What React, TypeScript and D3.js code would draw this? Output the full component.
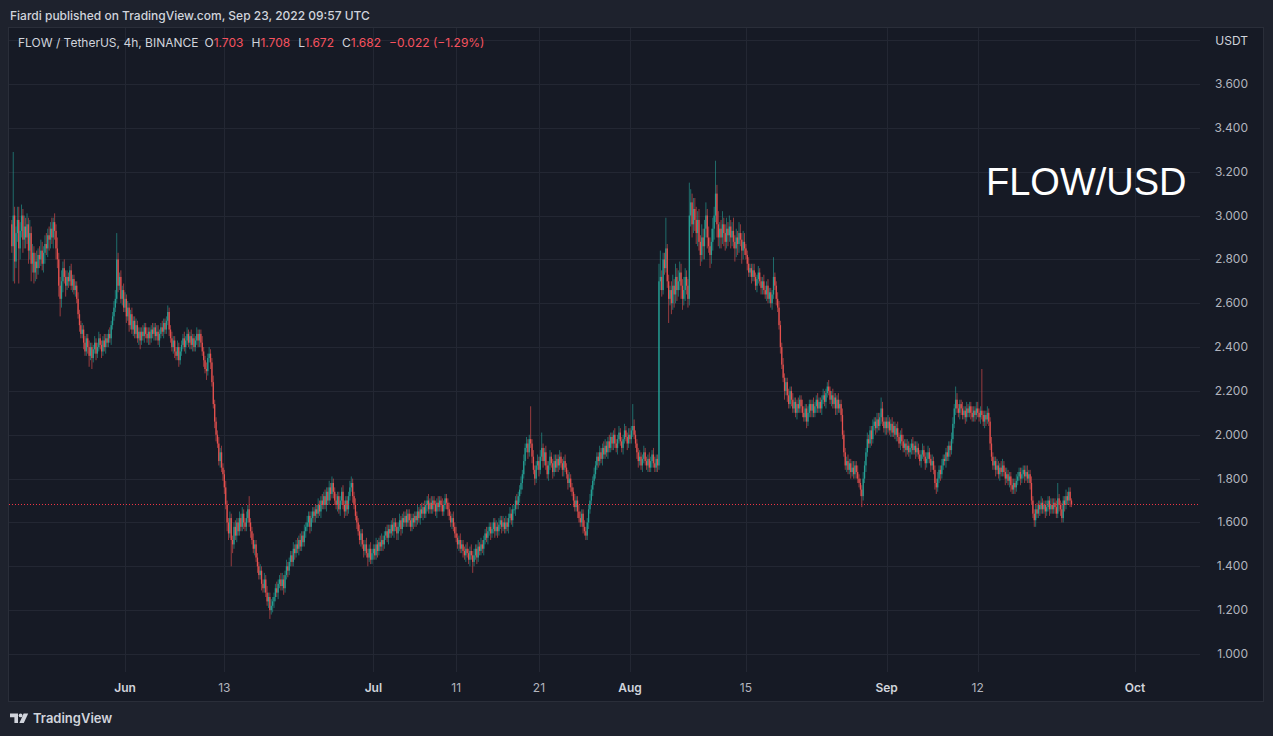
import * as d3 from 'd3';

// ---- data (FLOW/USDT, 4h bars, Binance) ----
const firstBar = Date.UTC(2022, 4, 18, 8); // first visible bar opens May 18 08:00 UTC
const barHours = 4;
const firstOpen = 2.96;

// closes in cents, one row per day
const closes = [
  [286, 300, 279, 292], // May 18
  [298, 285, 293, 300, 289, 295],
  [290, 296, 284, 292, 278, 283],
  [274, 279, 276, 282, 280, 284],
  [278, 283, 287, 285, 291, 289],
  [294, 290, 297, 293, 285, 280],
  [268, 262, 270, 276, 272, 268],
  [272, 270, 275, 268, 271, 266],
  [268, 262, 255, 250, 246, 248],
  [242, 238, 244, 240, 236, 240],
  [235, 239, 242, 237, 240, 244],
  [241, 238, 243, 240, 244, 242],
  [246, 244, 250, 254, 258, 262],
  [280, 268, 272, 262, 266, 258], // May 31
  [262, 254, 258, 250, 255, 248], // Jun 1
  [252, 246, 250, 244, 247, 243],
  [247, 245, 249, 246, 244, 247],
  [244, 248, 246, 249, 245, 247],
  [243, 246, 249, 247, 251, 248],
  [252, 256, 248, 244, 240, 243],
  [238, 236, 240, 234, 238, 241],
  [244, 240, 243, 246, 242, 245],
  [241, 244, 240, 243, 246, 243],
  [246, 242, 238, 234, 230, 229],
  [235, 237, 233, 224, 214, 206],
  [200, 196, 188, 192, 185, 182],
  [176, 168, 160, 155, 162, 152], // Jun 13
  [150, 158, 154, 160, 156, 162],
  [158, 164, 160, 158, 162, 166],
  [160, 156, 152, 148, 150, 144],
  [140, 136, 138, 132, 130, 134],
  [128, 124, 126, 120, 122, 124],
  [126, 130, 128, 132, 134, 131],
  [134, 130, 136, 140, 138, 142],
  [145, 142, 148, 146, 150, 148],
  [152, 149, 154, 151, 156, 158],
  [160, 163, 158, 162, 165, 163],
  [166, 164, 168, 165, 170, 168],
  [172, 168, 174, 170, 176, 173],
  [178, 174, 170, 168, 172, 166],
  [170, 174, 168, 165, 170, 166],
  [172, 176, 178, 172, 168, 163],
  [160, 156, 152, 155, 150, 147],
  [150, 146, 144, 148, 143, 146], // Jun 30
  [148, 145, 150, 147, 151, 149], // Jul 1
  [152, 150, 154, 156, 153, 157],
  [155, 159, 156, 160, 158, 155],
  [158, 161, 157, 162, 160, 163],
  [160, 164, 161, 158, 162, 160],
  [163, 161, 165, 162, 166, 164],
  [167, 164, 168, 170, 166, 169],
  [166, 170, 168, 165, 169, 167],
  [170, 168, 165, 168, 171, 169],
  [166, 163, 160, 162, 158, 155],
  [153, 150, 152, 148, 150, 147], // Jul 11
  [145, 148, 146, 143, 147, 145],
  [142, 145, 148, 144, 149, 147],
  [150, 148, 152, 155, 153, 156],
  [158, 155, 157, 160, 156, 158],
  [156, 159, 161, 158, 160, 157],
  [160, 158, 162, 164, 161, 166],
  [166, 170, 168, 172, 175, 178],
  [182, 188, 194, 196, 192, 198],
  [196, 190, 184, 180, 186, 188],
  [184, 190, 194, 188, 192, 186], // Jul 21
  [182, 186, 190, 187, 183, 188],
  [185, 189, 186, 190, 187, 184],
  [188, 185, 182, 178, 180, 176],
  [174, 170, 167, 170, 165, 162],
  [160, 164, 158, 156, 154, 160],
  [166, 170, 175, 179, 182, 186],
  [190, 188, 192, 189, 194, 191],
  [195, 192, 197, 194, 199, 196],
  [200, 196, 194, 198, 201, 197],
  [194, 198, 202, 199, 196, 200], // Jul 31
  [198, 202, 204, 200, 196, 192], // Aug 1
  [188, 190, 186, 189, 192, 188],
  [186, 189, 185, 188, 191, 187],
  [185, 189, 186, 270, 272, 266],
  [280, 276, 285, 270, 262, 266],
  [260, 268, 264, 272, 266, 270],
  [274, 268, 262, 266, 272, 268],
  [262, 300, 306, 296, 303, 298],
  [292, 298, 288, 282, 290, 286],
  [294, 300, 290, 286, 282, 288],
  [294, 300, 310, 296, 290, 294],
  [290, 296, 292, 288, 294, 291],
  [295, 290, 293, 288, 285, 290],
  [287, 292, 289, 284, 288, 285],
  [282, 278, 274, 276, 272, 275], // Aug 15
  [272, 268, 271, 274, 270, 267],
  [270, 266, 264, 268, 262, 265],
  [260, 264, 272, 268, 262, 258],
  [250, 240, 232, 226, 220, 224],
  [218, 214, 220, 216, 212, 215],
  [210, 214, 212, 216, 213, 210],
  [208, 212, 206, 210, 214, 211],
  [214, 210, 213, 216, 212, 215],
  [212, 216, 218, 215, 219, 222],
  [220, 216, 218, 214, 217, 212],
  [216, 212, 214, 209, 200, 192],
  [186, 188, 184, 187, 183, 185],
  [182, 186, 183, 180, 178, 175],
  [172, 180, 186, 192, 198, 196],
  [202, 198, 204, 206, 203, 207],
  [204, 208, 212, 206, 203, 206], // Aug 31
  [203, 206, 202, 205, 201, 204], // Sep 1
  [200, 203, 199, 196, 200, 197],
  [194, 196, 193, 195, 192, 194],
  [196, 193, 195, 192, 194, 191],
  [188, 191, 193, 190, 187, 189],
  [192, 189, 186, 188, 184, 178],
  [176, 180, 184, 182, 186, 189],
  [188, 192, 190, 195, 193, 198],
  [205, 212, 216, 212, 210, 214],
  [212, 209, 211, 208, 212, 210],
  [213, 210, 208, 211, 209, 212],
  [210, 208, 211, 209, 206, 209], // Sep 12
  [207, 210, 206, 196, 190, 186],
  [188, 184, 186, 182, 185, 183],
  [186, 183, 180, 182, 179, 181],
  [177, 175, 178, 176, 179, 181],
  [183, 180, 182, 184, 181, 183],
  [180, 182, 178, 170, 164, 161],
  [166, 164, 168, 166, 169, 166],
  [168, 165, 167, 170, 166, 168],
  [166, 169, 167, 164, 171, 168],
  [166, 162, 170, 168, 172, 170],
  [174, 170, 168], // Sep 23
].flat();

// wick length above the body, cents
const wickUp = [
  [2, 29, 4, 3], // May 18
  [6, 6, 4, 5, 3, 5], [4, 5, 3, 6, 3, 4], [3, 4, 5, 3, 4, 5], [4, 3, 4, 5, 3, 4],
  [3, 5, 2, 4, 3, 5], [3, 4, 5, 3, 4, 3], [3, 2, 2, 3, 2, 2], [2, 2, 3, 2, 2, 3],
  [2, 3, 2, 2, 3, 2], [2, 2, 3, 2, 2, 3], [2, 2, 2, 3, 2, 2], [2, 3, 2, 2, 3, 4],
  [12, 3, 2, 3, 2, 3],
  [3, 2, 3, 2, 2, 3], [2, 2, 3, 2, 2, 2], [2, 3, 2, 2, 3, 2], [2, 2, 3, 2, 2, 3], // Jun 1
  [3, 2, 2, 3, 2, 2], [2, 3, 2, 2, 3, 2], [2, 2, 3, 2, 2, 2], [2, 3, 2, 3, 2, 2],
  [3, 2, 2, 2, 3, 2], [2, 2, 3, 2, 2, 3], [2, 3, 2, 2, 3, 2], [2, 2, 3, 2, 3, 2],
  [2, 3, 2, 2, 3, 2], [2, 2, 3, 2, 2, 3], [2, 3, 2, 2, 3, 2], [6, 2, 2, 3, 2, 2],
  [2, 2, 3, 2, 2, 3], [2, 3, 2, 2, 3, 2], [2, 2, 3, 2, 2, 3], [3, 2, 2, 3, 2, 2],
  [2, 2, 3, 2, 2, 3], [2, 3, 2, 2, 3, 2], [3, 2, 2, 3, 2, 2], [2, 2, 3, 2, 2, 3],
  [2, 3, 2, 2, 3, 2], [3, 2, 2, 3, 2, 2], [2, 2, 3, 2, 2, 2], [2, 3, 3, 2, 2, 3],
  [2, 2, 3, 2, 2, 2], [2, 3, 2, 2, 3, 2],
  [2, 2, 3, 2, 2, 3], [3, 2, 2, 2, 3, 2], [2, 2, 3, 2, 2, 2], [2, 3, 2, 2, 3, 2], // Jul 1
  [3, 2, 2, 3, 2, 2], [2, 2, 3, 2, 2, 3], [2, 3, 2, 2, 3, 2], [3, 2, 2, 2, 2, 3],
  [2, 2, 3, 2, 2, 2], [2, 3, 2, 2, 3, 2], [3, 2, 2, 3, 2, 2], [2, 2, 3, 2, 2, 3],
  [2, 3, 2, 2, 3, 2], [3, 2, 2, 2, 3, 2], [2, 2, 3, 2, 2, 3], [2, 3, 2, 2, 3, 2],
  [3, 2, 2, 3, 2, 2], [2, 2, 3, 2, 2, 3], [2, 3, 2, 3, 2, 2], [15, 2, 3, 2, 2, 3],
  [2, 3, 7, 2, 2, 3], [2, 2, 3, 2, 2, 3], [3, 2, 2, 3, 2, 2], [2, 3, 2, 2, 3, 2],
  [2, 2, 3, 2, 2, 3], [3, 2, 2, 3, 2, 2], [2, 3, 2, 2, 3, 2], [2, 2, 3, 2, 2, 3],
  [3, 2, 2, 3, 2, 2], [2, 3, 2, 2, 3, 2], [2, 2, 3, 2, 2, 3],
  [3, 2, 10, 3, 2, 2], [2, 3, 2, 2, 3, 2], [2, 2, 3, 2, 2, 3], [3, 2, 2, 8, 12, 3], // Aug 1
  [3, 3, 14, 2, 3, 2], [4, 5, 3, 6, 4, 5], [5, 4, 3, 6, 4, 3], [3, 15, 6, 4, 5, 5],
  [6, 4, 5, 3, 6, 4], [4, 6, 3, 5, 4, 6], [5, 4, 15, 4, 6, 3], [4, 6, 3, 4, 5, 3],
  [5, 3, 4, 6, 3, 4], [3, 5, 4, 3, 5, 4], [2, 2, 3, 2, 2, 3], [3, 2, 2, 3, 2, 2],
  [2, 3, 2, 2, 3, 2], [2, 2, 9, 2, 2, 3], [3, 2, 2, 3, 2, 2], [2, 3, 2, 2, 3, 2],
  [2, 2, 3, 2, 2, 3], [3, 2, 2, 3, 2, 2], [2, 3, 2, 2, 3, 2], [2, 2, 3, 2, 2, 2],
  [3, 2, 2, 3, 2, 2], [2, 3, 2, 2, 3, 2], [2, 2, 3, 2, 2, 3], [3, 2, 2, 3, 2, 2],
  [2, 3, 2, 2, 3, 2], [2, 2, 3, 2, 2, 3], [3, 2, 5, 3, 2, 2],
  [2, 3, 2, 2, 3, 2], [2, 2, 3, 2, 2, 3], [3, 2, 2, 3, 2, 2], [2, 3, 2, 2, 3, 2], // Sep 1
  [2, 2, 3, 2, 2, 3], [3, 2, 2, 3, 2, 2], [2, 3, 2, 2, 3, 2], [2, 2, 3, 2, 2, 3],
  [3, 2, 6, 3, 2, 2], [2, 3, 2, 2, 3, 2], [2, 2, 3, 2, 2, 3], [3, 2, 2, 19, 2, 2],
  [2, 3, 2, 2, 3, 2], [2, 2, 3, 2, 2, 3], [3, 2, 2, 3, 2, 2], [2, 3, 2, 2, 3, 2],
  [2, 2, 3, 2, 2, 3], [3, 2, 2, 3, 2, 2], [2, 3, 2, 2, 3, 2], [2, 2, 3, 2, 2, 3],
  [3, 2, 2, 3, 7, 2], [2, 3, 2, 2, 3, 2],
  [2, 2, 1], // Sep 23
].flat();

// wick length below the body, cents
const wickDn = [
  [3, 16, 10, 3], // May 18
  [4, 16, 5, 3, 6, 4], [5, 3, 6, 4, 8, 4], [5, 4, 5, 3, 4, 3], [3, 4, 5, 3, 4, 5],
  [4, 3, 5, 4, 5, 4], [5, 8, 4, 5, 3, 5], [2, 3, 2, 2, 3, 2], [3, 2, 2, 3, 2, 2],
  [3, 2, 2, 3, 5, 2], [5, 2, 2, 3, 2, 2], [2, 3, 2, 2, 3, 2], [2, 2, 3, 2, 2, 2],
  [2, 3, 2, 2, 3, 2],
  [2, 3, 2, 3, 2, 2], [3, 2, 2, 2, 3, 4], [2, 2, 3, 2, 2, 3], [3, 2, 2, 3, 2, 2], // Jun 1
  [2, 3, 2, 2, 3, 2], [2, 2, 3, 2, 2, 3], [3, 2, 2, 3, 2, 2], [2, 2, 3, 2, 2, 3],
  [2, 3, 2, 2, 2, 3], [3, 2, 2, 3, 2, 4], [2, 2, 3, 2, 2, 3], [3, 2, 2, 3, 2, 3],
  [3, 2, 4, 3, 2, 12], [4, 2, 2, 3, 2, 2], [2, 2, 3, 2, 2, 2], [2, 3, 2, 2, 3, 2],
  [3, 2, 2, 3, 2, 2], [2, 2, 3, 4, 2, 3], [3, 2, 2, 3, 2, 2], [2, 3, 2, 2, 3, 2],
  [2, 2, 2, 3, 2, 2], [3, 2, 2, 2, 2, 3], [2, 2, 3, 2, 2, 3], [3, 2, 2, 2, 3, 2],
  [2, 2, 3, 2, 2, 3], [2, 3, 2, 2, 3, 2], [3, 2, 2, 3, 2, 3], [2, 2, 2, 3, 2, 2],
  [3, 2, 2, 3, 2, 3], [2, 2, 4, 2, 2, 2],
  [3, 2, 2, 3, 2, 2], [2, 3, 2, 2, 2, 3], [2, 2, 2, 3, 2, 3], [3, 2, 3, 2, 2, 2], // Jul 1
  [2, 2, 3, 2, 2, 3], [2, 3, 2, 2, 3, 2], [3, 2, 2, 3, 2, 2], [2, 2, 3, 2, 3, 2],
  [2, 3, 2, 2, 2, 3], [3, 2, 2, 3, 2, 2], [2, 2, 3, 2, 2, 3], [2, 3, 2, 2, 3, 2],
  [5, 2, 2, 3, 2, 2], [2, 2, 3, 2, 2, 3], [2, 3, 2, 2, 3, 2], [3, 2, 2, 3, 2, 2],
  [2, 2, 3, 2, 2, 3], [2, 3, 2, 2, 3, 2], [3, 2, 2, 2, 3, 2], [2, 3, 2, 3, 2, 2],
  [3, 2, 2, 3, 2, 2], [2, 3, 2, 2, 3, 2], [2, 2, 3, 2, 2, 3], [3, 2, 2, 3, 2, 2],
  [2, 3, 2, 2, 3, 2], [2, 2, 3, 2, 2, 2], [3, 2, 2, 3, 2, 2], [2, 3, 2, 2, 3, 2],
  [2, 2, 3, 2, 2, 3], [3, 2, 2, 3, 2, 2], [2, 3, 2, 2, 3, 2],
  [2, 2, 3, 2, 2, 3], [3, 2, 2, 3, 2, 2], [2, 3, 2, 2, 3, 2], [2, 2, 3, 2, 4, 3], // Aug 1
  [2, 3, 2, 3, 11, 3], [5, 3, 6, 4, 5, 3], [4, 6, 5, 3, 5, 4], [4, 3, 5, 6, 4, 5],
  [5, 6, 4, 5, 3, 6], [6, 4, 5, 3, 6, 4], [4, 5, 3, 6, 4, 5], [5, 3, 6, 4, 3, 5],
  [3, 5, 4, 3, 6, 4], [5, 4, 3, 6, 4, 3], [2, 3, 2, 2, 3, 2], [2, 2, 3, 2, 2, 3],
  [3, 2, 2, 3, 2, 2], [2, 3, 2, 2, 3, 2], [2, 3, 2, 2, 4, 2], [3, 2, 2, 3, 2, 2],
  [2, 3, 2, 2, 3, 2], [2, 2, 3, 2, 2, 3], [3, 2, 2, 3, 2, 2], [2, 3, 2, 2, 3, 2],
  [2, 2, 3, 2, 2, 3], [3, 2, 2, 3, 2, 2], [2, 3, 2, 2, 3, 2], [2, 2, 3, 2, 2, 3],
  [5, 2, 2, 3, 2, 2], [2, 3, 2, 2, 3, 2], [2, 2, 3, 2, 2, 3],
  [3, 2, 2, 3, 2, 2], [2, 3, 2, 2, 3, 2], [2, 2, 3, 2, 2, 3], [3, 2, 2, 3, 2, 2], // Sep 1
  [2, 3, 2, 2, 3, 2], [2, 2, 3, 2, 2, 3], [3, 2, 2, 3, 2, 2], [2, 3, 2, 2, 3, 2],
  [2, 2, 3, 2, 2, 3], [3, 2, 2, 3, 2, 2], [2, 3, 2, 2, 3, 2], [2, 2, 3, 2, 2, 3],
  [3, 2, 2, 3, 2, 2], [2, 3, 2, 2, 3, 2], [2, 2, 3, 2, 2, 3], [3, 2, 2, 3, 2, 2],
  [2, 3, 2, 2, 3, 2], [2, 2, 3, 2, 2, 3], [3, 2, 2, 3, 2, 2], [2, 3, 2, 2, 3, 2],
  [2, 2, 3, 2, 2, 3], [3, 2, 2, 3, 2, 2],
  [2, 3, 1], // Sep 23
].flat();

const lastPrice = 1.682;
const priceTicks = [1.0, 1.2, 1.4, 1.6, 1.8, 2.0, 2.2, 2.4, 2.6, 2.8, 3.0, 3.2, 3.4, 3.6];
const gridPrices = [...priceTicks, 3.8];
const timeTicks = [
  { date: Date.UTC(2022, 5, 1), label: 'Jun', month: true },
  { date: Date.UTC(2022, 5, 13), label: '13', month: false },
  { date: Date.UTC(2022, 6, 1), label: 'Jul', month: true },
  { date: Date.UTC(2022, 6, 11), label: '11', month: false },
  { date: Date.UTC(2022, 6, 21), label: '21', month: false },
  { date: Date.UTC(2022, 7, 1), label: 'Aug', month: true },
  { date: Date.UTC(2022, 7, 15), label: '15', month: false },
  { date: Date.UTC(2022, 8, 1), label: 'Sep', month: true },
  { date: Date.UTC(2022, 8, 12), label: '12', month: false },
  { date: Date.UTC(2022, 9, 1), label: 'Oct', month: true },
];

const W = 1273;
const H = 736;
const pane = { left: 8, top: 27, right: 1263, bottom: 701 };
const plotRight = 1200;
const plotBottom = 672;

const UP = '#26a69a';
const DOWN = '#ef5350';
const FONT = 'Inter, "Noto Sans", sans-serif';

export default function App() {
  const x = d3.scaleUtc()
    .domain([Date.UTC(2022, 5, 1), Date.UTC(2022, 9, 1)])
    .range([125, 1135]);
  const y = d3.scaleLinear().domain([1, 3.6]).range([654, 84]);

  const bars = closes.map((c, i) => {
    const open = i === 0 ? firstOpen : closes[i - 1] / 100;
    const close = c / 100;
    const high = Math.max(open, close) + wickUp[i] / 100;
    const low = Math.min(open, close) - wickDn[i] / 100;
    const t = firstBar + i * barHours * 3600 * 1000;
    return { t, open, close, high, low };
  });

  return (
    <svg
      width={W}
      height={H}
      style={{ position: 'absolute', left: 0, top: 0, display: 'block' }}
      fontFamily={FONT}
    >
      <rect width={W} height={H} fill="#1e222d" />
      <text x={10} y={20} fontSize={12} fill="#d1d4dc" fontWeight={500}>
        Fiardi published on TradingView.com, Sep 23, 2022 09:57 UTC
      </text>

      {/* chart pane */}
      <rect
        x={pane.left + 0.5}
        y={pane.top + 0.5}
        width={pane.right - pane.left}
        height={pane.bottom - pane.top}
        fill="#161a25"
        stroke="#2a2e39"
      />

      {/* grid */}
      <g stroke="#232733" strokeWidth={1}>
        {gridPrices.map((p) => (
          <line key={p} x1={pane.left + 1} x2={plotRight} y1={Math.round(y(p)) + 0.5} y2={Math.round(y(p)) + 0.5} />
        ))}
        {timeTicks.map((tk) => (
          <line key={tk.label} x1={Math.round(x(tk.date)) + 0.5} x2={Math.round(x(tk.date)) + 0.5} y1={pane.top + 1} y2={plotBottom} />
        ))}
      </g>

      {/* candles */}
      <g>
        {bars.map((b) => {
          const cx = x(b.t);
          const col = b.close >= b.open ? UP : DOWN;
          const yTop = y(Math.max(b.open, b.close));
          const yBot = y(Math.min(b.open, b.close));
          return (
            <g key={b.t}>
              <line x1={cx} x2={cx} y1={y(b.high)} y2={y(b.low)} stroke={col} strokeWidth={0.8} opacity={0.75} />
              <rect x={cx - 0.65} y={yTop} width={1.3} height={Math.max(1, yBot - yTop)} fill={col} opacity={0.9} />
            </g>
          );
        })}
      </g>

      {/* last price line */}
      <line
        x1={pane.left + 1}
        x2={plotRight}
        y1={y(lastPrice)}
        y2={y(lastPrice)}
        stroke="#f23645"
        strokeWidth={1}
        strokeDasharray="1 2"
      />

      {/* legend */}
      <text x={18} y={47} fontSize={12} fill="#d1d4dc">
        FLOW / TetherUS, 4h, BINANCE
        <tspan dx={6}>O</tspan><tspan fill="#f7525f">1.703</tspan>
        <tspan dx={8}>H</tspan><tspan fill="#f7525f">1.708</tspan>
        <tspan dx={8}>L</tspan><tspan fill="#f7525f">1.672</tspan>
        <tspan dx={8}>C</tspan><tspan fill="#f7525f">1.682</tspan>
        <tspan dx={8} fill="#f7525f">−0.022 (−1.29%)</tspan>
      </text>

      {/* price axis */}
      <g fontSize={12} fill="#b2b5be" textAnchor="end">
        <text x={1248} y={45} fill="#d1d4dc">USDT</text>
        {priceTicks.map((p) => (
          <text key={p} x={1248} y={y(p) + 4}>{p.toFixed(3)}</text>
        ))}
      </g>

      {/* time axis */}
      <g fontSize={12} textAnchor="middle">
        {timeTicks.map((tk) => (
          <text
            key={tk.label}
            x={x(tk.date)}
            y={692}
            fill={tk.month ? '#d1d4dc' : '#b2b5be'}
            fontWeight={tk.month ? 600 : 400}
          >
            {tk.label}
          </text>
        ))}
      </g>

      {/* watermark title */}
      <text x={986} y={195} fontSize={38} fill="#ffffff" fontFamily='"Liberation Sans", Arial, sans-serif'>
        FLOW/USD
      </text>

      {/* TradingView logo */}
      <g fill="#d1d4dc">
        <path d="M10 713.5 h8 v9.5 h-3.6 v-5.8 h-4.4 z" />
        <circle cx={20.6} cy={715.4} r={1.9} />
        <path d="M23.6 713.5 h4.6 l-4.4 9.5 h-4.4 z" />
        <text x={33} y={723} fontSize={13} fontWeight={600}>TradingView</text>
      </g>
    </svg>
  );
}
